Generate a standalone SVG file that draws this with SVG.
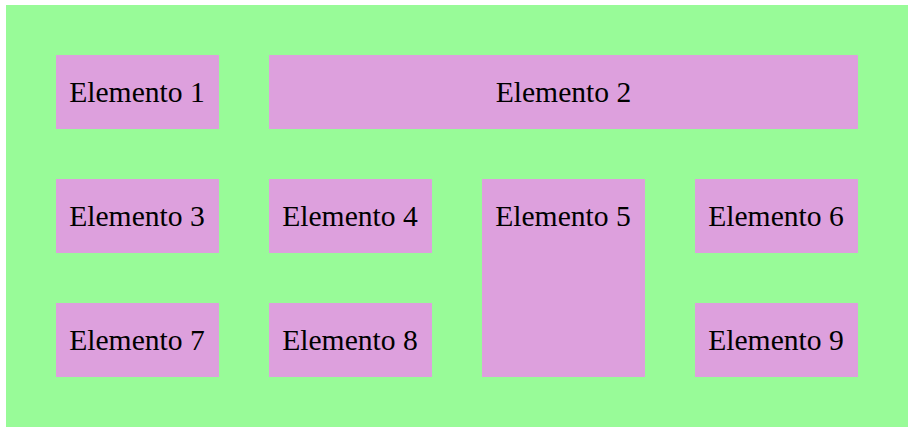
<svg xmlns="http://www.w3.org/2000/svg" width="913" height="432" viewBox="0 0 913 432">
<style>
.box{fill:#dda0dd}
.lbl{font-family:"Liberation Serif","Times New Roman",serif;font-size:29.6px;fill:#000;text-anchor:middle}
</style>
<rect x="0" y="0" width="913" height="432" fill="#ffffff"/>
<rect x="6" y="5" width="902" height="422" fill="#98fb98"/>
<g id="connectors"></g>
<g id="n1"><rect class="box" x="56" y="55" width="163" height="74"/><text class="lbl" x="137" y="102">Elemento 1</text></g>
<g id="n2"><rect class="box" x="269" y="55" width="589" height="74"/><text class="lbl" x="563.5" y="102">Elemento 2</text></g>
<g id="n3"><rect class="box" x="56" y="179" width="163" height="74"/><text class="lbl" x="137" y="226">Elemento 3</text></g>
<g id="n4"><rect class="box" x="269" y="179" width="163" height="74"/><text class="lbl" x="350" y="226">Elemento 4</text></g>
<g id="n5"><rect class="box" x="482" y="179" width="163" height="198"/><text class="lbl" x="563" y="226">Elemento 5</text></g>
<g id="n6"><rect class="box" x="695" y="179" width="163" height="74"/><text class="lbl" x="776" y="226">Elemento 6</text></g>
<g id="n7"><rect class="box" x="56" y="303" width="163" height="74"/><text class="lbl" x="137" y="350">Elemento 7</text></g>
<g id="n8"><rect class="box" x="269" y="303" width="163" height="74"/><text class="lbl" x="350" y="350">Elemento 8</text></g>
<g id="n9"><rect class="box" x="695" y="303" width="163" height="74"/><text class="lbl" x="776" y="350">Elemento 9</text></g>
</svg>
